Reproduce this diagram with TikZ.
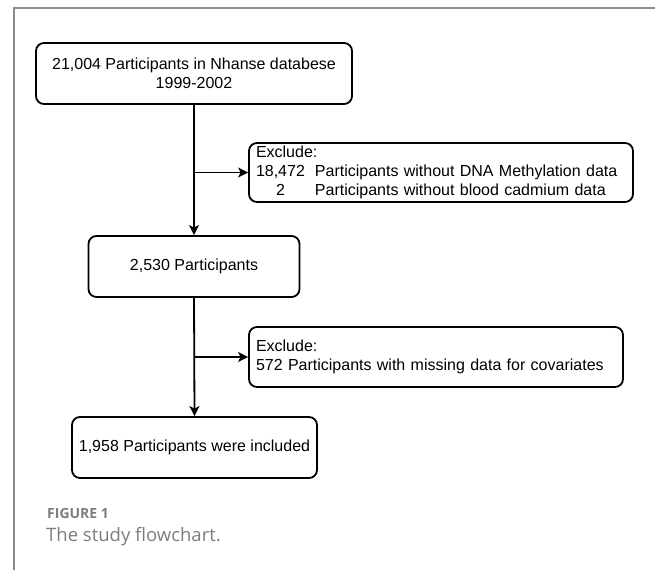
\documentclass[tikz,border=0pt]{standalone}
\usepackage{fontspec}
\setmainfont{Liberation Sans}
\newfontfamily\capfont{Open Sans}
\usetikzlibrary{arrows.meta}
\definecolor{framegray}{RGB}{140,140,140}
\definecolor{capgray}{RGB}{125,125,125}
\begin{document}
\begin{tikzpicture}[x=1pt,y=-1pt,
  flowbox/.style={draw=black,line width=1.8pt,rounded corners=8pt,inner sep=0pt,
    font=\fontsize{16}{19}\selectfont},
  conn/.style={line width=1.8pt,-{Stealth[length=10pt,width=10pt,inset=2.5pt]}},
  frameline/.style={draw=framegray,line width=2pt},
  captxt/.style={text=capgray,inner sep=0pt,anchor=base west}]
\useasboundingbox (0,0) rectangle (655,570);
\draw[frameline] (14,570) -- (14,8) -- (655,8);

\node[flowbox,minimum width=316pt,minimum height=61pt,align=center] (b1) at (194,73.5)
  {21,004 Participants in Nhanse databese\\1999-2002};
\node[flowbox,minimum width=384pt,minimum height=59pt,text width=370pt,align=left] (b2) at (441,172.5)
  {\begin{tabular}{@{}c@{\hspace{10pt}}l@{}}\multicolumn{2}{@{}l@{}}{Exclude:}\\18,472 & Participants without DNA Methylation data\\2 & Participants without blood cadmium data\end{tabular}};
\node[flowbox,minimum width=211pt,minimum height=61pt] (b3) at (194,266.5) {2,530 Participants};
\node[flowbox,minimum width=374pt,minimum height=60pt,text width=360pt,align=left] (b4) at (436,357)
  {Exclude:\\572 Participants with missing data for covariates};
\node[flowbox,minimum width=245pt,minimum height=61pt] (b5) at (194.5,447.5) {1,958 Participants were included};

\coordinate (j1) at (b1.south |- b2.west);
\coordinate (j2) at (b3.south |- b4.west);
\draw[conn] (b1.south) -- (b3.north);
\draw[conn] (j1) -- (b2.west);
\draw[conn] (b3.south) -- (b5.north);
\draw[conn] (j2) -- (b4.west);

\node[captxt,font=\capfont\bfseries\fontsize{14}{16}\selectfont] (cap1) at (47,518) {FIGURE 1};
\node[captxt,font=\capfont\fontsize{18.5}{22}\selectfont] (cap2) at (46,541) {The study flowchart.};
\end{tikzpicture}
\end{document}
